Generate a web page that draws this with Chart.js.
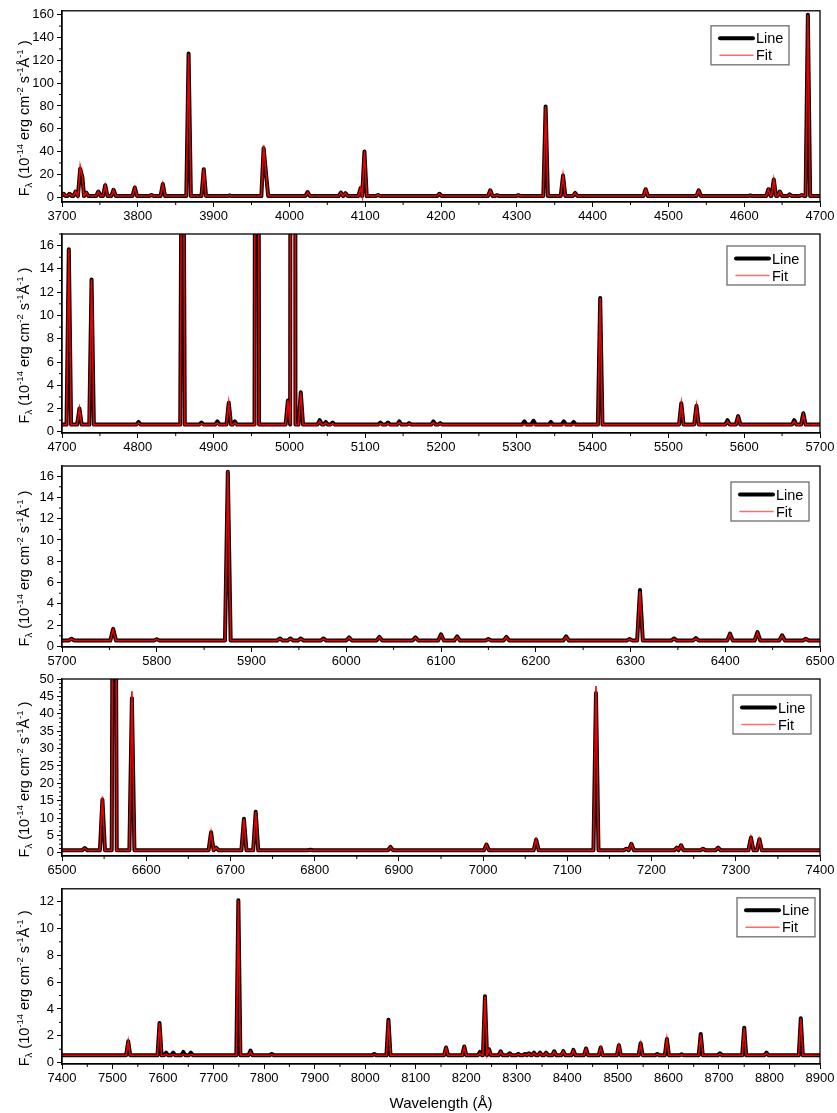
<!DOCTYPE html>
<html>
<head>
<meta charset="utf-8">
<script src="https://cdn.jsdelivr.net/npm/chart.js@4.4.1/dist/chart.umd.min.js"></script>
<style>
  html, body { margin: 0; padding: 0; background: #fff; }
  #page { position: relative; width: 837px; height: 1113px; overflow: hidden; }
  .panel { position: absolute; left: 0; width: 837px; }
</style>
</head>
<body>
<div id="page"></div>
<script>
// ---- data (wavelength in Å, flux in 1e-14 erg/cm2/s/Å) ----
const waves1 = [3702, 3710, 3718, 3724, 3727, 3732, 3748, 3757, 3768, 3796, 3818, 3833, 3867, 3887, 3921, 3966, 3969, 4024, 4068, 4074, 4094, 4099, 4117, 4198, 4265, 4274, 4302, 4338, 4361, 4377, 4470, 4540, 4608, 4632, 4639, 4647, 4660, 4676, 4684];
const line1  = [3, 3, 5, 25, 17, 4, 5, 10.5, 6.5, 8.5, 2, 11.5, 126, 24.5, 1.5, 43, 22, 4.5, 4, 3.5, 8, 40, 2, 3, 6, 1.8, 1.8, 79.5, 19, 3.7, 7, 6, 1.5, 7, 15.5, 5, 2.5, 2, 160];
const fit1   = [3, 3, 5, 27, 17, 4, 5, 10.5, 6.5, 8.5, 2, 11.5, 126, 25, 1.5, 45.5, 22, 4.5, 4, 3.5, 8, 40.5, 2, 3, 6, 1.8, 1.8, 79.5, 19, 3.7, 7, 6, 1.5, 7, 15.5, 5, 2.5, 2, 160];

const waves2 = [4709, 4723, 4739, 4801, 4859, 4884, 4905, 4920, 4928, 4957, 4998, 5005, 5015, 5040, 5048, 5057, 5120, 5130, 5145, 5158, 5190, 5199, 5310, 5322, 5345, 5362, 5375, 5410, 5517, 5537, 5578, 5592, 5666, 5678];
const line2  = [15.7, 2.0, 13.1, 0.85, 45, 0.8, 0.9, 2.5, 0.9, 130, 2.7, 320, 3.4, 1.0, 0.85, 0.8, 0.8, 0.8, 0.9, 0.75, 0.9, 0.75, 0.9, 0.95, 0.85, 0.9, 0.85, 11.5, 2.45, 2.25, 1.0, 1.35, 1.0, 1.6];
const fit2   = [15.7, 2.0, 13.1, 0.75, 45, 0.7, 0.75, 2.5, 0.75, 130, 2.7, 320, 3.4, 0.9, 0.75, 0.7, 0.7, 0.7, 0.8, 0.7, 0.8, 0.7, 0.62, 0.62, 0.62, 0.62, 0.62, 11.5, 2.45, 2.25, 0.9, 1.3, 0.9, 1.5];

const waves3 = [5710, 5754, 5800, 5875, 5930, 5941, 5952, 5976, 6003, 6035, 6073, 6100, 6117, 6150, 6169, 6232, 6299, 6310, 6346, 6369, 6405, 6434, 6460, 6485];
const line3  = [0.72, 1.65, 0.68, 16.4, 0.75, 0.75, 0.75, 0.75, 0.85, 0.9, 0.85, 1.15, 0.95, 0.7, 0.9, 0.95, 0.7, 5.3, 0.75, 0.78, 1.2, 1.35, 1.05, 0.72];
const fit3   = [0.7, 1.6, 0.66, 16.5, 0.72, 0.72, 0.72, 0.72, 0.82, 0.88, 0.82, 1.1, 0.9, 0.66, 0.86, 0.9, 0.66, 5.2, 0.7, 0.74, 1.15, 1.3, 1.0, 0.7];

const waves4 = [6527, 6548, 6562, 6583, 6677, 6683, 6716, 6730, 6795, 6890, 7004, 7063, 7134, 7170, 7176, 7230, 7235, 7261, 7279, 7318, 7328];
const line4  = [1.4, 15.3, 200, 44.5, 5.9, 1.5, 9.8, 11.8, 0.9, 1.7, 2.4, 3.8, 46, 1.2, 2.6, 1.5, 2.2, 1.2, 1.5, 4.4, 3.9];
const fit4   = [1.4, 16.2, 200, 46.5, 5.9, 1.5, 9.8, 11.8, 0.8, 1.7, 2.4, 3.8, 48, 1.2, 2.6, 1.5, 2.2, 1.2, 1.5, 4.4, 3.9];

const waves5 = [7531, 7593, 7606, 7620, 7640, 7655, 7749, 7773, 7815, 8018, 8046, 8160, 8196, 8227, 8237, 8245, 8268, 8286, 8303, 8316, 8324, 8334, 8346, 8358, 8374, 8392, 8412, 8437, 8466, 8502, 8545, 8578, 8597, 8626, 8664, 8702, 8750, 8794, 8862];
const line5  = [1.6, 2.95, 0.75, 0.75, 0.8, 0.75, 12.1, 0.9, 0.65, 0.65, 3.2, 1.13, 1.2, 0.8, 4.95, 1.0, 0.85, 0.7, 0.66, 0.65, 0.7, 0.75, 0.75, 0.75, 0.85, 0.87, 0.95, 1.06, 1.13, 1.3, 1.44, 0.65, 1.77, 0.62, 2.13, 0.7, 2.6, 0.75, 3.3];
const fit5   = [1.6, 2.95, 0.6, 0.6, 0.6, 0.6, 12.1, 0.8, 0.6, 0.6, 3.2, 1.1, 1.15, 0.7, 4.95, 0.95, 0.8, 0.65, 0.63, 0.62, 0.68, 0.72, 0.72, 0.72, 0.82, 0.85, 0.92, 1.03, 1.1, 1.28, 1.42, 0.6, 1.75, 0.58, 2.1, 0.65, 2.58, 0.7, 3.28];

// continuum level of each panel
const continuum = [1.0, 0.62, 0.56, 0.75, 0.55];

// tick labels
const xTicks1 = [3700, 3800, 3900, 4000, 4100, 4200, 4300, 4400, 4500, 4600, 4700];
const xTicks2 = [4700, 4800, 4900, 5000, 5100, 5200, 5300, 5400, 5500, 5600, 5700];
const xTicks3 = [5700, 5800, 5900, 6000, 6100, 6200, 6300, 6400, 6500];
const xTicks4 = [6500, 6600, 6700, 6800, 6900, 7000, 7100, 7200, 7300, 7400];
const xTicks5 = [7400, 7500, 7600, 7700, 7800, 7900, 8000, 8100, 8200, 8300, 8400, 8500, 8600, 8700, 8800, 8900];
const yTicks1 = [0, 20, 40, 60, 80, 100, 120, 140, 160];
const yTicks2 = [0, 2, 4, 6, 8, 10, 12, 14, 16];
const yTicks3 = [0, 2, 4, 6, 8, 10, 12, 14, 16];
const yTicks4 = [0, 5, 10, 15, 20, 25, 30, 35, 40, 45, 50];
const yTicks5 = [0, 2, 4, 6, 8, 10, 12];

const seriesNames = ['Line', 'Fit'];
const yTitle = [
  ['F', 0], ['λ', -1], [' (10', 0], ['-14', 1], [' erg cm', 0], ['-2', 1],
  [' s', 0], ['-1', 1], ['Å', 0], ['-1', 1], [' )', 0]
];

// ---- layout / style ----
const FONT = "'Liberation Sans', Arial, Helvetica, sans-serif";
const panels = [
  { waves: waves1, line: line1, fit: fit1, xTicks: xTicks1, yTicks: yTicks1, xMin: 3700, xMax: 4700, yMin: -4.2, yMax: 163.4, yMinor: 10,
    top: 0, height: 222, padTop: 3, xAxisH: 20, hw: 3, legend: [649, 15] },
  { waves: waves2, line: line2, fit: fit2, xTicks: xTicks2, yTicks: yTicks2, xMin: 4700, xMax: 5700, yMin: -0.1, yMax: 17, yMinor: 1,
    top: 222, height: 233, padTop: 12, xAxisH: 22, hw: 3, legend: [665, 12] },
  { waves: waves3, line: line3, fit: fit3, xTicks: xTicks3, yTicks: yTicks3, xMin: 5700, xMax: 6500, yMin: -0.05, yMax: 16.95, yMinor: 1,
    top: 455, height: 213, padTop: 11, xAxisH: 21, hw: 3, legend: [669, 16] },
  { waves: waves4, line: line4, fit: fit4, xTicks: xTicks4, yTicks: yTicks4, xMin: 6500, xMax: 7400, yMin: -0.9, yMax: 50, yMinor: 1.25,
    top: 668, height: 210, padTop: 11, xAxisH: 22, hw: 3, legend: [671, 16] },
  { waves: waves5, line: line5, fit: fit5, xTicks: xTicks5, yTicks: yTicks5, xMin: 7400, xMax: 8900, yMin: -0.1, yMax: 12.95, yMinor: 1,
    top: 878, height: 235, padTop: 2, xAxisH: 49, hw: 4, legend: [675, 9], xTitle: 'Wavelength (Å)' }
];
const yAxisW = 62;
const rightPad = 17;

// peak list -> polyline on the continuum
function buildSpectrum(waves, flux, base, hw, xMin, xMax) {
  const pts = [{ x: xMin, y: base }];
  waves.forEach(function(l, i) {
    const last = pts[pts.length - 1].x;
    if (l - hw > last) pts.push({ x: l - hw, y: base });
    pts.push({ x: l, y: flux[i] });
    const next = i + 1 < waves.length ? waves[i + 1] - hw : xMax;
    if (l + hw <= next) pts.push({ x: l + hw, y: base });
  });
  pts.push({ x: xMax, y: base });
  return pts;
}

function originPlugin(p) {
  return {
    id: 'originStyle',
    afterDraw(chart) {
      const ctx = chart.ctx, a = chart.chartArea;
      const xs = chart.scales.x, ys = chart.scales.y;
      ctx.save();
      // frame
      ctx.strokeStyle = '#000';
      ctx.lineWidth = 1.3;
      ctx.strokeRect(a.left, a.top, a.right - a.left, a.bottom - a.top);
      // minor ticks
      ctx.lineWidth = 1;
      ctx.beginPath();
      for (let v = p.xMin + 50; v < p.xMax; v += 100) {
        const px = xs.getPixelForValue(v);
        ctx.moveTo(px, a.bottom); ctx.lineTo(px, a.bottom + 3);
      }
      for (let i = Math.ceil(p.yMin / p.yMinor); i * p.yMinor <= p.yMax; i++) {
        const v = i * p.yMinor;
        if (p.yTicks.some(t => Math.abs(t - v) < 1e-6)) continue;
        const py = ys.getPixelForValue(v);
        ctx.moveTo(a.left, py); ctx.lineTo(a.left - 3, py);
      }
      ctx.stroke();

      // y title with sub/superscripts
      const big = 14.5, small = 9.5;
      let total = 0;
      yTitle.forEach(function(seg) {
        ctx.font = (seg[1] ? small : big) + 'px ' + FONT;
        total += ctx.measureText(seg[0]).width;
      });
      ctx.translate(29, (a.top + a.bottom) / 2 + 12);
      ctx.rotate(-Math.PI / 2);
      ctx.fillStyle = '#000';
      ctx.textBaseline = 'alphabetic';
      let cx = -total / 2;
      yTitle.forEach(function(seg) {
        ctx.font = (seg[1] ? small : big) + 'px ' + FONT;
        const dy = seg[1] === 1 ? -6 : (seg[1] === -1 ? 3 : 0);
        ctx.fillText(seg[0], cx, dy);
        cx += ctx.measureText(seg[0]).width;
      });
      ctx.restore();

      // legend box
      ctx.save();
      const bx = a.left + p.legend[0], by = a.top + p.legend[1];
      ctx.fillStyle = '#fff';
      ctx.fillRect(bx, by, 78, 39);
      ctx.strokeStyle = '#777';
      ctx.lineWidth = 1.4;
      ctx.strokeRect(bx, by, 78, 39);
      ctx.lineCap = 'round';
      chart.data.datasets.forEach(function(ds, i) {
        const ly = by + 12.5 + i * 17;
        ctx.strokeStyle = i === 0 ? '#000' : '#ff6b6b';
        ctx.lineWidth = i === 0 ? 4 : 1.5;
        ctx.beginPath();
        ctx.moveTo(bx + 9, ly); ctx.lineTo(bx + 42, ly);
        ctx.stroke();
        ctx.fillStyle = '#000';
        ctx.font = '14.5px ' + FONT;
        ctx.textBaseline = 'middle';
        ctx.fillText(ds.label, bx + 45, ly + 1);
      });
      ctx.restore();
    }
  };
}

function makePanel(p, idx) {
  const div = document.createElement('div');
  div.className = 'panel';
  div.style.top = p.top + 'px';
  div.style.height = p.height + 'px';
  const canvas = document.createElement('canvas');
  div.appendChild(canvas);
  document.getElementById('page').appendChild(div);

  const base = continuum[idx];
  return new Chart(canvas.getContext('2d'), {
    type: 'line',
    data: {
      datasets: [{
        label: seriesNames[0],
        data: buildSpectrum(p.waves, p.line, base, p.hw, p.xMin, p.xMax),
        borderColor: '#000',
        borderWidth: 4,
        borderJoinStyle: 'round',
        pointRadius: 0,
        tension: 0,
        clip: 0,
        order: 2
      }, {
        label: seriesNames[1],
        data: buildSpectrum(p.waves, p.fit, base, p.hw, p.xMin, p.xMax),
        borderColor: '#ee0000',
        borderWidth: 1.6,
        pointRadius: 0,
        tension: 0,
        clip: 0,
        order: 1
      }]
    },
    options: {
      responsive: true,
      maintainAspectRatio: false,
      animation: false,
      events: [],
      layout: { padding: { top: p.padTop, right: rightPad, left: 0, bottom: 0 } },
      plugins: { legend: { display: false }, tooltip: { enabled: false } },
      scales: {
        x: {
          type: 'linear',
          min: p.xMin,
          max: p.xMax,
          afterBuildTicks: function(s) { s.ticks = p.xTicks.map(v => ({ value: v })); },
          afterFit: function(s) { s.height = p.xAxisH; },
          ticks: {
            autoSkip: false, maxRotation: 0, padding: 2,
            color: '#000', font: { family: FONT, size: 13 },
            callback: v => String(v)
          },
          grid: { drawOnChartArea: false, drawTicks: true, tickLength: 5, color: '#000', lineWidth: 1 },
          border: { display: true, color: '#000', width: 1.3 },
          title: {
            display: !!p.xTitle, text: p.xTitle || '', color: '#000',
            font: { family: FONT, size: 15 }, padding: { top: 4, bottom: 0 }
          }
        },
        y: {
          type: 'linear',
          min: p.yMin,
          max: p.yMax,
          afterBuildTicks: function(s) { s.ticks = p.yTicks.map(v => ({ value: v })); },
          afterFit: function(s) { s.width = yAxisW; },
          ticks: {
            autoSkip: false, padding: 3,
            color: '#000', font: { family: FONT, size: 13 },
            callback: v => String(v)
          },
          grid: { drawOnChartArea: false, drawTicks: true, tickLength: 5, color: '#000', lineWidth: 1 },
          border: { display: true, color: '#000', width: 1.3 }
        }
      }
    },
    plugins: [originPlugin(p)]
  });
}

panels.forEach(makePanel);
</script>
</body>
</html>
